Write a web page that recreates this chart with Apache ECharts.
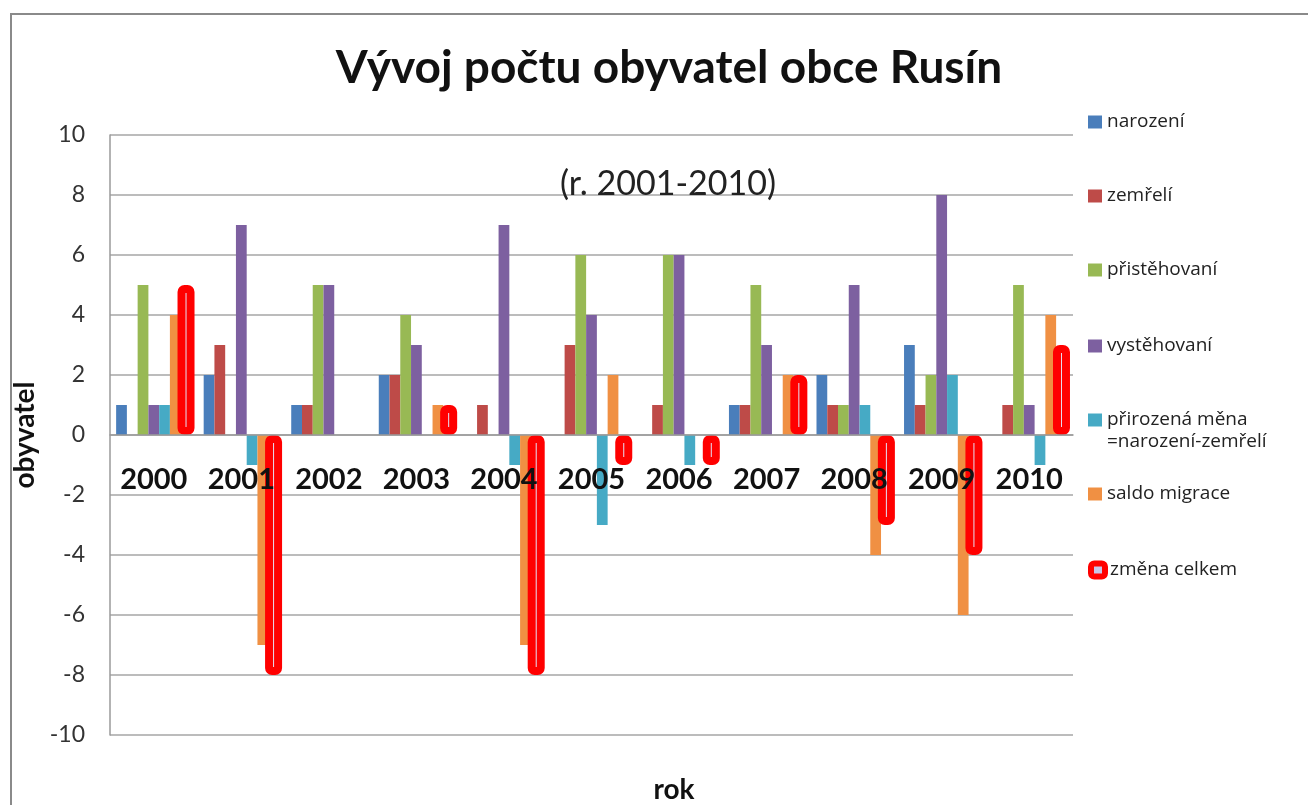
<!DOCTYPE html>
<html>
<head>
<meta charset="utf-8">
<title>Vývoj počtu obyvatel obce Rusín</title>
<script src="https://cdn.jsdelivr.net/npm/echarts@6/dist/echarts.min.js"></script>
<style>
  html, body { margin: 0; padding: 0; background: #fff; }
  #chart { width: 1308px; height: 805px; }
</style>
</head>
<body>
<div id="chart"></div>
<script>
  // roky
  const years = ['2000', '2001', '2002', '2003', '2004', '2005', '2006', '2007', '2008', '2009', '2010']
  const seriesNames = ['narození', 'zemřelí', 'přistěhovaní', 'vystěhovaní', 'přirozená měna =narození-zemřelí', 'saldo migrace', 'změna celkem']
  // hodnoty
  const narozeni = [1, 2, 1, 2, 0, 0, 0, 1, 2, 3, 0]
  const zemreli = [0, 3, 1, 2, 1, 3, 1, 1, 1, 1, 1]
  const pristehovani = [5, 0, 5, 4, 0, 6, 6, 5, 1, 2, 5]
  const vystehovani = [1, 7, 5, 3, 7, 4, 6, 3, 5, 8, 1]
  const prirozenaMena = [1, -1, 0, 0, -1, -3, -1, 0, 1, 2, -1]
  const saldoMigrace = [4, -7, 0, 1, -7, 2, 0, 2, -4, -6, 4]
  const zmenaCelkem = [5, -8, 0, 1, -8, -1, -1, 2, -3, -4, 3]
  const yTicks = [-10, 10, 2]

  const values = [narozeni, zemreli, pristehovani, vystehovani, prirozenaMena, saldoMigrace]
  const colors = ['#4a7ebb', '#be4b48', '#98b954', '#7d60a0', '#46aac5', '#f09043']
  const font = 'Lato, "Open Sans", sans-serif'
  const legendFont = '"Open Sans", Lato, sans-serif'

  const chart = echarts.init(document.getElementById('chart'))

  const series = values.map((data, i) => ({
    name: seriesNames[i],
    type: 'bar',
    data: data,
    barGap: '0%',
    barCategoryGap: '14%',
    itemStyle: { color: colors[i] },
    emphasis: { disabled: true }
  }))
  // prázdné místo pro 7. sloupec na hlavní ose
  series.push({
    name: 'slot',
    type: 'bar',
    data: years.map(() => '-'),
    barGap: '0%',
    barCategoryGap: '14%'
  })
  // změna celkem na skryté ose, aby mohl být sloupec širší (s rámečkem)
  series.push({
    name: 'odsazeni',
    type: 'bar',
    xAxisIndex: 1,
    data: years.map(() => '-'),
    barWidth: 64.5,
    barGap: '0%'
  })
  series.push({
    name: seriesNames[6],
    type: 'bar',
    xAxisIndex: 1,
    data: zmenaCelkem.map(v => (v === 0 ? '-' : v)),
    barWidth: 17,
    barGap: '0%',
    itemStyle: {
      color: '#e4e0f4',
      borderColor: '#ff0000',
      borderWidth: 8,
      borderRadius: 3
    },
    emphasis: { disabled: true }
  })

  // legenda - každá položka zvlášť, aby byly rozestupy stejné
  const legendTops = [109, 183, 257, 333, 407, 481, 557]
  const legends = seriesNames.map((name, i) => {
    const item = { name: name }
    if (i === 6) {
      item.itemStyle = { color: '#c9c3e6', borderColor: '#ff0000', borderWidth: 6 }
      item.icon = 'roundRect'
    }
    return {
      data: [item],
      left: 1088,
      top: legendTops[i],
      padding: 0,
      itemWidth: 14,
      itemHeight: 13,
      icon: 'rect',
      selectedMode: false,
      formatter: function (n) {
        return n.split(' =')[0]
      },
      textStyle: {
        fontFamily: legendFont,
        fontSize: 19,
        color: '#222',
        lineHeight: 26
      }
    }
  })

  chart.setOption({
    backgroundColor: '#fff',
    animation: false,
    title: [{
      text: 'Vývoj počtu obyvatel obce Rusín',
      left: 664,
      top: 40,
      textAlign: 'center',
      textStyle: { fontFamily: font, fontSize: 46, fontWeight: 'bold', color: '#111' }
    }, {
      text: '(r. 2001-2010)',
      left: 663,
      top: 162,
      textAlign: 'center',
      textStyle: { fontFamily: font, fontSize: 34, fontWeight: 'normal', color: '#222' }
    }, {
      text: 'rok',
      left: 669,
      top: 771,
      textAlign: 'center',
      textStyle: { fontFamily: font, fontSize: 28, fontWeight: 'bold', color: '#111' }
    }],
    legend: legends,
    graphic: [{
      type: 'rect',
      shape: { x: 11, y: 14, width: 1400, height: 900 },
      style: { fill: 'none', stroke: '#8a8a8a', lineWidth: 2 },
      silent: true
    }, {
      type: 'text',
      left: 1107,
      top: 432,
      style: {
        text: '=narození-zemřelí',
        font: '19px ' + legendFont,
        fill: '#222'
      },
      silent: true
    }],
    grid: {
      left: 110,
      right: 235,
      top: 135,
      bottom: 70
    },
    xAxis: [{
      type: 'category',
      data: years,
      position: 'bottom',
      offset: -300,
      z: 10,
      axisLine: { onZero: false, lineStyle: { color: '#9a9a9a', width: 1.5 } },
      axisTick: { show: false },
      axisLabel: {
        margin: 30,
        fontFamily: font,
        fontSize: 29,
        fontWeight: 'bold',
        color: '#111'
      },
      splitLine: { show: false }
    }, {
      type: 'category',
      data: years,
      show: false
    }],
    yAxis: {
      type: 'value',
      min: yTicks[0],
      max: yTicks[1],
      interval: yTicks[2],
      name: 'obyvatel',
      nameLocation: 'middle',
      nameRotate: 90,
      nameGap: 62,
      nameTextStyle: { fontFamily: font, fontSize: 28, fontWeight: 'bold', color: '#111' },
      axisLine: { show: true, lineStyle: { color: '#9a9a9a', width: 1.5 } },
      axisTick: { show: false },
      axisLabel: { margin: 25, fontFamily: font, fontSize: 23, color: '#333' },
      splitLine: { lineStyle: { color: '#a6a6a6', width: 1.5 } }
    },
    tooltip: { show: false },
    series: series
  })
</script>
</body>
</html>
